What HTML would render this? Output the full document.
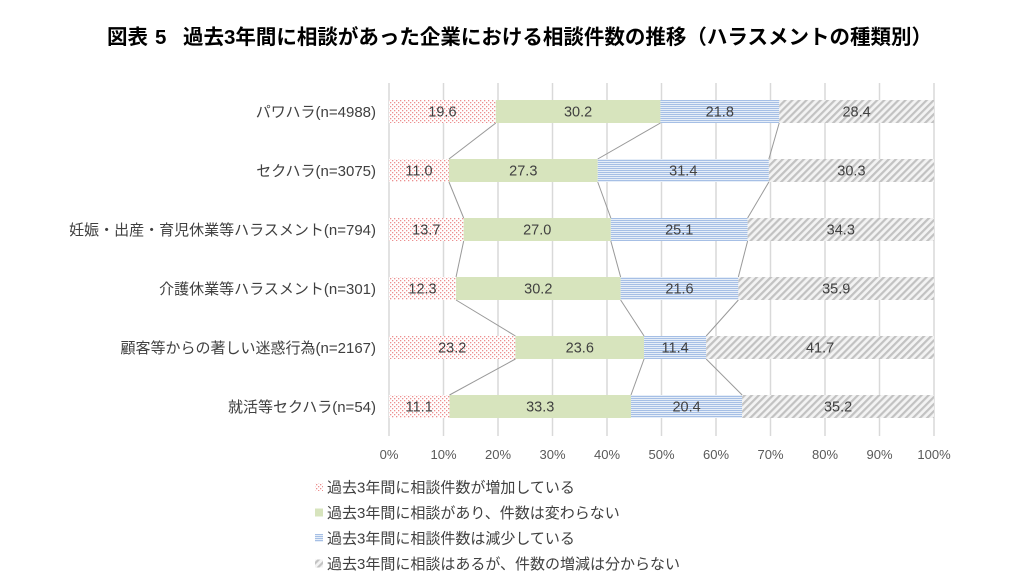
<!DOCTYPE html>
<html lang="ja">
<head>
<meta charset="utf-8">
<style>
  html,body{margin:0;padding:0;background:#fff;}
  body{width:1024px;height:588px;overflow:hidden;}
  svg{display:block;}
  .t{font-family:"Liberation Sans","Noto Sans CJK JP",sans-serif;}
</style>
</head>
<body>
<svg width="1024" height="588" viewBox="0 0 1024 588" xmlns="http://www.w3.org/2000/svg">
  <defs>
    <pattern id="dots" width="4" height="4" patternUnits="userSpaceOnUse">
      <rect width="4" height="4" fill="#fff"/>
      <rect x="0" y="0" width="1.3" height="1.3" fill="#ec8f8f"/>
      <rect x="2" y="2" width="1.3" height="1.3" fill="#ec8f8f"/>
    </pattern>
    <pattern id="hs" width="4" height="2" patternUnits="userSpaceOnUse">
      <rect width="4" height="2" fill="#e6eef8"/>
      <rect width="4" height="1" fill="#a6bfe5"/>
    </pattern>
    <pattern id="dg" width="5" height="5" patternUnits="userSpaceOnUse" patternTransform="rotate(45)">
      <rect width="5" height="5" fill="#f3f3f3"/>
      <rect width="2.2" height="5" fill="#c2c2c2"/>
    </pattern>
  </defs>

  <!-- Title -->
  <text class="t" x="107" y="44" font-size="20.5" font-weight="bold" fill="#000">図表<tspan x="155">5</tspan><tspan x="183">過去3年間に相談があった企業における相談件数の推移（ハラスメントの種類別）</tspan></text>

  <!-- Gridlines -->
  <g stroke="#d9d9d9" stroke-width="1.5">
    <line x1="389" y1="83" x2="389" y2="436"/>
    <line x1="443.5" y1="83" x2="443.5" y2="436"/>
    <line x1="498" y1="83" x2="498" y2="436"/>
    <line x1="552.5" y1="83" x2="552.5" y2="436"/>
    <line x1="607" y1="83" x2="607" y2="436"/>
    <line x1="661.5" y1="83" x2="661.5" y2="436"/>
    <line x1="716" y1="83" x2="716" y2="436"/>
    <line x1="770.5" y1="83" x2="770.5" y2="436"/>
    <line x1="825" y1="83" x2="825" y2="436"/>
    <line x1="879.5" y1="83" x2="879.5" y2="436"/>
    <line x1="934" y1="83" x2="934" y2="436"/>
  </g>

  <!-- Bars -->
  <rect x="389" y="100" width="106.82" height="23" fill="url(#dots)"/>
  <rect x="495.82" y="100" width="164.59" height="23" fill="#d7e4bd"/>
  <rect x="660.41" y="100" width="118.81" height="23" fill="url(#hs)"/>
  <rect x="779.22" y="100" width="154.78" height="23" fill="url(#dg)"/>

  <rect x="389" y="159" width="59.95" height="23" fill="url(#dots)"/>
  <rect x="448.95" y="159" width="148.79" height="23" fill="#d7e4bd"/>
  <rect x="597.74" y="159" width="171.13" height="23" fill="url(#hs)"/>
  <rect x="768.87" y="159" width="165.13" height="23" fill="url(#dg)"/>

  <rect x="389" y="218" width="74.67" height="23" fill="url(#dots)"/>
  <rect x="463.67" y="218" width="147.15" height="23" fill="#d7e4bd"/>
  <rect x="610.82" y="218" width="136.79" height="23" fill="url(#hs)"/>
  <rect x="747.61" y="218" width="186.39" height="23" fill="url(#dg)"/>

  <rect x="389" y="277" width="67.04" height="23" fill="url(#dots)"/>
  <rect x="456.04" y="277" width="164.59" height="23" fill="#d7e4bd"/>
  <rect x="620.63" y="277" width="117.72" height="23" fill="url(#hs)"/>
  <rect x="738.35" y="277" width="195.65" height="23" fill="url(#dg)"/>

  <rect x="389" y="336" width="126.44" height="23" fill="url(#dots)"/>
  <rect x="515.44" y="336" width="128.62" height="23" fill="#d7e4bd"/>
  <rect x="644.06" y="336" width="62.13" height="23" fill="url(#hs)"/>
  <rect x="706.19" y="336" width="227.81" height="23" fill="url(#dg)"/>

  <rect x="389" y="395" width="60.5" height="23" fill="url(#dots)"/>
  <rect x="449.5" y="395" width="181.48" height="23" fill="#d7e4bd"/>
  <rect x="630.98" y="395" width="111.18" height="23" fill="url(#hs)"/>
  <rect x="742.16" y="395" width="191.84" height="23" fill="url(#dg)"/>

  <!-- Connector lines -->
  <g stroke="#999" stroke-width="1" fill="none">
    <line x1="495.82" y1="123" x2="448.95" y2="159"/>
    <line x1="660.41" y1="123" x2="597.74" y2="159"/>
    <line x1="779.22" y1="123" x2="768.87" y2="159"/>

    <line x1="448.95" y1="182" x2="463.67" y2="218"/>
    <line x1="597.74" y1="182" x2="610.82" y2="218"/>
    <line x1="768.87" y1="182" x2="747.61" y2="218"/>

    <line x1="463.67" y1="241" x2="456.04" y2="277"/>
    <line x1="610.82" y1="241" x2="620.63" y2="277"/>
    <line x1="747.61" y1="241" x2="738.35" y2="277"/>

    <line x1="456.04" y1="300" x2="515.44" y2="336"/>
    <line x1="620.63" y1="300" x2="644.06" y2="336"/>
    <line x1="738.35" y1="300" x2="706.19" y2="336"/>

    <line x1="515.44" y1="359" x2="449.5" y2="395"/>
    <line x1="644.06" y1="359" x2="630.98" y2="395"/>
    <line x1="706.19" y1="359" x2="742.16" y2="395"/>
  </g>

  <!-- Bar value labels -->
  <g class="t" font-size="14.5" fill="#404040" text-anchor="middle">
    <text x="442.4" y="116.5">19.6</text>
    <text x="578.1" y="116.5">30.2</text>
    <text x="719.8" y="116.5">21.8</text>
    <text x="856.6" y="116.5">28.4</text>

    <text x="419.0" y="175.5">11.0</text>
    <text x="523.3" y="175.5">27.3</text>
    <text x="683.3" y="175.5">31.4</text>
    <text x="851.4" y="175.5">30.3</text>

    <text x="426.3" y="234.5">13.7</text>
    <text x="537.2" y="234.5">27.0</text>
    <text x="679.2" y="234.5">25.1</text>
    <text x="840.8" y="234.5">34.3</text>

    <text x="422.5" y="293.5">12.3</text>
    <text x="538.3" y="293.5">30.2</text>
    <text x="679.5" y="293.5">21.6</text>
    <text x="836.2" y="293.5">35.9</text>

    <text x="452.2" y="352.5">23.2</text>
    <text x="579.8" y="352.5">23.6</text>
    <text x="675.1" y="352.5">11.4</text>
    <text x="820.1" y="352.5">41.7</text>

    <text x="419.2" y="411.5">11.1</text>
    <text x="540.2" y="411.5">33.3</text>
    <text x="686.6" y="411.5">20.4</text>
    <text x="838.1" y="411.5">35.2</text>
  </g>

  <!-- Category labels -->
  <g class="t" font-size="15" fill="#404040" text-anchor="end">
    <text x="376" y="117">パワハラ(n=4988)</text>
    <text x="376" y="176">セクハラ(n=3075)</text>
    <text x="376" y="235">妊娠・出産・育児休業等ハラスメント(n=794)</text>
    <text x="376" y="294">介護休業等ハラスメント(n=301)</text>
    <text x="376" y="353">顧客等からの著しい迷惑行為(n=2167)</text>
    <text x="376" y="412">就活等セクハラ(n=54)</text>
  </g>

  <!-- Tick labels -->
  <g class="t" font-size="13" fill="#595959" text-anchor="middle">
    <text x="389" y="459">0%</text>
    <text x="443.5" y="459">10%</text>
    <text x="498" y="459">20%</text>
    <text x="552.5" y="459">30%</text>
    <text x="607" y="459">40%</text>
    <text x="661.5" y="459">50%</text>
    <text x="716" y="459">60%</text>
    <text x="770.5" y="459">70%</text>
    <text x="825" y="459">80%</text>
    <text x="879.5" y="459">90%</text>
    <text x="934" y="459">100%</text>
  </g>

  <!-- Legend -->
  <rect x="315" y="483" width="8" height="8" fill="url(#dots)"/>
  <rect x="315" y="508.5" width="8" height="8" fill="#d7e4bd"/>
  <rect x="315" y="534" width="8" height="8" fill="url(#hs)"/>
  <rect x="315" y="559.5" width="8" height="8" fill="url(#dg)"/>
  <g class="t" font-size="15" fill="#404040">
    <text x="327" y="492.5">過去3年間に相談件数が増加している</text>
    <text x="327" y="518">過去3年間に相談があり、件数は変わらない</text>
    <text x="327" y="543.5">過去3年間に相談件数は減少している</text>
    <text x="327" y="569">過去3年間に相談はあるが、件数の増減は分からない</text>
  </g>
</svg>
</body>
</html>
